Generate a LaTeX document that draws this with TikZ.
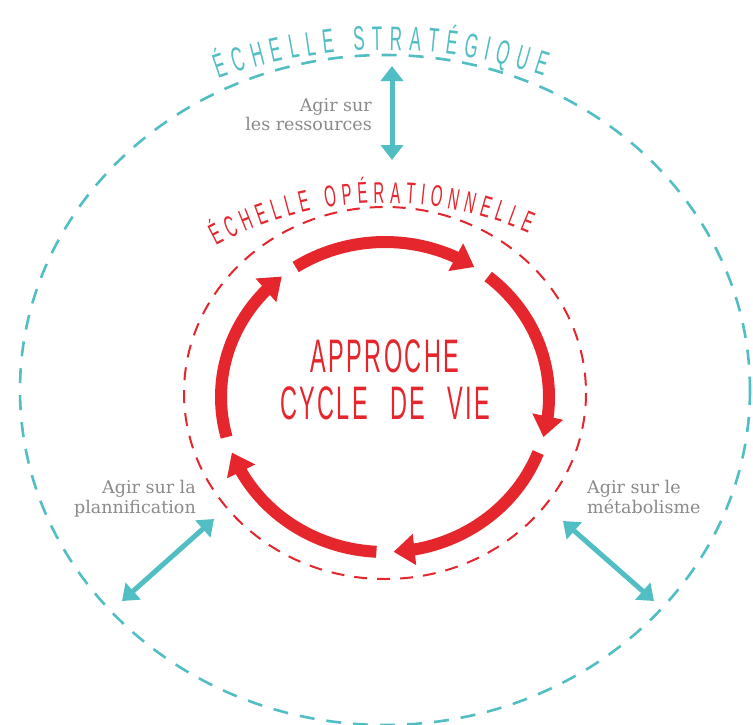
\documentclass[tikz,border=0pt]{standalone}
\usepackage{fontspec}
\usetikzlibrary{arrows.meta,bending,decorations.text}
\definecolor{tealc}{HTML}{50BEC3}
\definecolor{redc}{HTML}{E5262D}
\definecolor{lblgray}{HTML}{8A8A8A}
\newfontfamily\titlefont[FakeStretch=0.5]{Liberation Sans}
\newfontfamily\centerfont[FakeStretch=0.5,LetterSpace=5,WordSpace=2.5]{Liberation Sans}
\newfontfamily\slabfont{DejaVu Serif}
\tikzset{
  outerring/.style={tealc, line width=2.6pt, dash pattern=on 15pt off 12pt},
  innerring/.style={redc, line width=2pt, dash pattern=on 13pt off 10pt},
  cyclearc/.style={redc, line width=12pt, -{Triangle[length=21pt,width=30pt]}},
  actarrow/.style={tealc, line width=5pt, {Triangle[length=15pt,width=22pt]}-{Triangle[length=15pt,width=22pt]}},
  lbl/.style={text=lblgray, font=\slabfont\fontsize{17.5}{19.5}\selectfont, inner sep=0pt},
  centertext/.style={text=redc, font=\centerfont\fontsize{47}{47}\selectfont, align=center, inner sep=0pt},
}
\begin{document}
\begin{tikzpicture}[x=1pt,y=-1pt]
  \fill[white] (0,0) rectangle (753,724);
  \useasboundingbox (0,0) rectangle (753,724);
  % rings
  \draw[outerring] (385,390) ellipse [x radius=365, y radius=335];
  \draw[innerring] (385,393) ellipse [x radius=201, y radius=186];
  % curved titles
  \path[decorate, decoration={text along path, text align={fit to path}, text color=tealc,
      text={|\titlefont\fontsize{34}{36}\selectfont|ÉCHELLE STRATÉGIQUE}}]
    (385,550) ++(-109.5:500) arc[start angle=-109.5, end angle=-71.5, radius=500];
  \path[decorate, decoration={text along path, text align={fit to path}, text color=redc,
      text={|\titlefont\fontsize{30}{32}\selectfont|ÉCHELLE OPÉRATIONNELLE}}]
    (385,563) ++(-118:360) arc[start angle=-118, end angle=-66.5, radius=360];
  % life-cycle arrows
  \foreach \k in {0,...,4}{
    \draw[cyclearc] (385,397) ++({-123+72*\k}:164 and 155)
      arc[start angle={-123+72*\k}, end angle={-57+72*\k}, x radius=164, y radius=155];
  }
  % central text
  \node[centertext] (acv) at (385,380) {APPROCHE\\CYCLE DE VIE};
  % labels
  \node[lbl, align=right, anchor=north east] (res) at (372,98) {Agir sur\\les ressources};
  \node[lbl, align=right, anchor=north east] (plan) at (196,480) {Agir sur la\\plannification};
  \node[lbl, align=left, anchor=north west] (meta) at (587,480) {Agir sur le\\métabolisme};
  % action arrows
  \coordinate (r1) at (392,66);
  \coordinate (r2) at (392,160);
  \coordinate (p1) at (122,601);
  \coordinate (p2) at (214,519);
  \coordinate (m1) at (563,521);
  \coordinate (m2) at (654,601);
  \draw[actarrow] (r1) -- (r2);
  \draw[actarrow] (p1) -- (p2);
  \draw[actarrow] (m1) -- (m2);
\end{tikzpicture}
\end{document}
